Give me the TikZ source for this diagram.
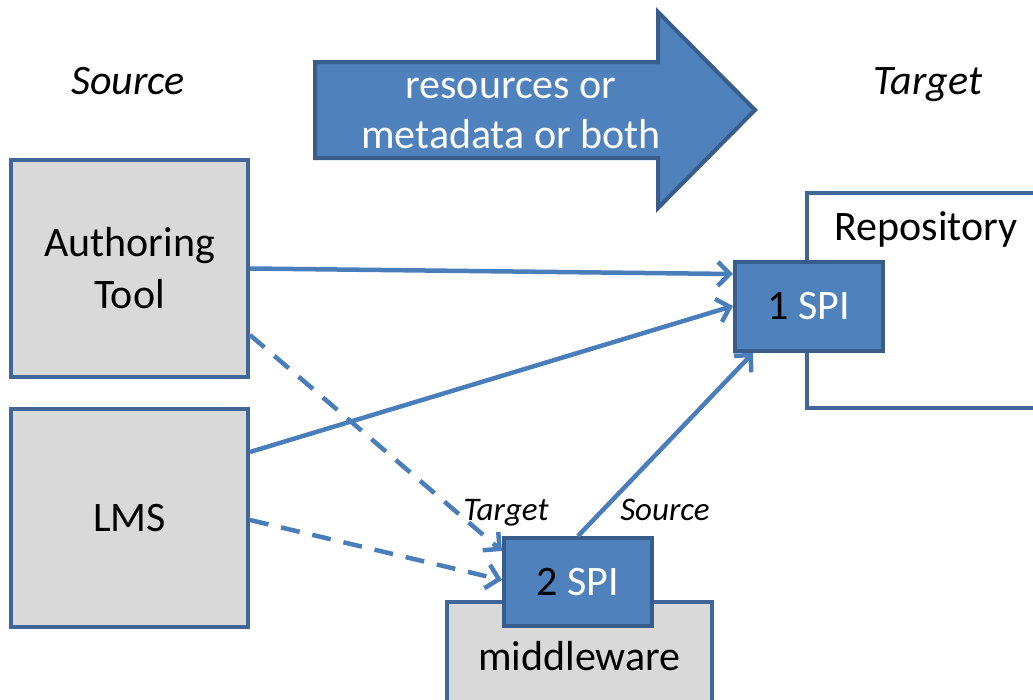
\documentclass[tikz,border=0pt]{standalone}
\usepackage{fontspec}
\setmainfont{Carlito}
\usetikzlibrary{arrows.meta}
\definecolor{boxgray}{HTML}{D9D9D9}
\definecolor{boxedge}{HTML}{41679A}
\definecolor{spifill}{HTML}{4F81BD}
\definecolor{spiedge}{HTML}{385D8A}
\definecolor{conncol}{HTML}{4A7EBB}
\tikzset{
  graybox/.style={draw=boxedge, fill=boxgray, line width=4pt, align=center, inner sep=0pt},
  whitebox/.style={draw=boxedge, fill=white, line width=4pt, inner sep=0pt},
  spibox/.style={draw=spiedge, fill=spifill, line width=4pt, inner sep=0pt},
  bigtext/.style={font=\fontsize{42}{52}\selectfont, align=center},
  headtext/.style={font=\fontsize{42}{52}\selectfont\itshape, anchor=base},
  smalltext/.style={font=\fontsize{33}{40}\selectfont\itshape, anchor=base},
  conn/.style={draw=conncol, line width=4.5pt, -{Straight Barb[length=12pt,width=24pt,line width=4.5pt]}},
  dconn/.style={conn, dash pattern=on 19pt off 13pt},
}
\begin{document}
\begin{tikzpicture}[x=1pt,y=-1pt]
\useasboundingbox (0,0) rectangle (1033,699);
\clip (0,0) rectangle (1033,699);
% headers
\node[headtext] (srclab) at (128,94) {Source};
\node[headtext] (tgtlab) at (928,94) {Target};
% big arrow
\draw[draw=spiedge, fill=spifill, line width=4pt, line join=miter]
  (315,62) -- (658,62) -- (658,12) -- (755,110) -- (658,208) -- (658,158) -- (315,158) -- cycle;
\node[bigtext, text=white] (flow) at (511,113) {resources or\\[-2pt]metadata or both};
% source boxes
\node[graybox, bigtext, minimum width=237pt, minimum height=217pt] (auth) at (129.5,268.5) {Authoring\\Tool};
\node[graybox, bigtext, minimum width=237pt, minimum height=218pt] (lms) at (129.5,518) {LMS};
% repository
\node[whitebox, minimum width=240pt, minimum height=215pt] (repo) at (927,300.5) {};
\node[bigtext] (repotext) at (926,229) {Repository};
\node[spibox, bigtext, minimum width=148pt, minimum height=89pt] (spi1) at (809,306.5) {1 \textcolor{white}{SPI}};
% middleware
\node[graybox, bigtext, minimum width=265pt, minimum height=108pt] (mw) at (579.5,656) {middleware};
\node[spibox, bigtext, minimum width=148pt, minimum height=88pt] (spi2) at (578,582) {2 \textcolor{white}{SPI}};
% connectors
\draw[conn] (auth.east) -- (spi1.west |- 0,274);
\draw[conn] (lms.east |- 0,452) -- (spi1.west |- 0,306);
\draw[conn] (spi2.north) -- (spi1.south -| 753,0);
\draw[dconn] (auth.east |- 0,335) -- (spi2.west |- 0,551);
\draw[dconn] (lms.east |- 0,520) -- (spi2.west |- 0,580);
% small labels
\node[smalltext] (tlab) at (506,520) {Target};
\node[smalltext] (slab) at (665,520) {Source};
\end{tikzpicture}
\end{document}
